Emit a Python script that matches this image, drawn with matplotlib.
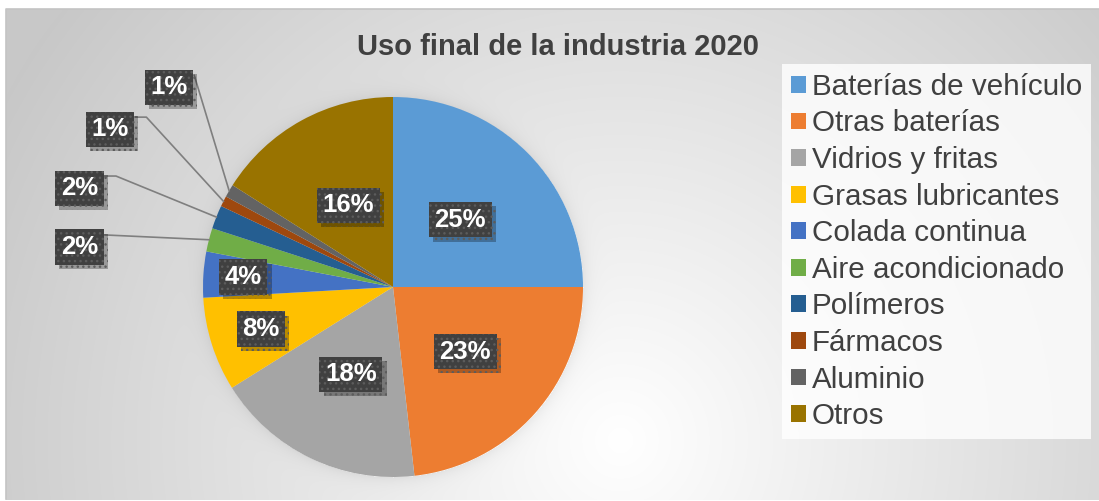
import matplotlib
matplotlib.use("Agg")
import matplotlib.pyplot as plt
import matplotlib.patches as mpatches
import matplotlib.patheffects as pe
import numpy as np

plt.rcParams['font.family'] = ['Liberation Sans', 'DejaVu Sans']
plt.rcParams['hatch.color'] = '#5c5c5c'
plt.rcParams['hatch.linewidth'] = 1.0

# data
categories = ['Baterías de vehículo', 'Otras baterías', 'Vidrios y fritas',
              'Grasas lubricantes', 'Colada continua', 'Aire acondicionado',
              'Polímeros', 'Fármacos', 'Aluminio', 'Otros']
values = [25.0, 23.2, 17.9, 8.0, 3.9, 2.0, 2.0, 0.9, 1.1, 16.0]
colors = ['#5B9BD5', '#ED7D31', '#A5A5A5', '#FFC000', '#4472C4',
          '#70AD47', '#255E91', '#9E480E', '#636363', '#997300']
title = 'Uso final de la industria 2020'

# label layout: inside distance, or moved outside box centre (pie radius units)
inside_dist = [0.5, 0.51, 0.51, 0.73, 0.79, None, None, None, None, 0.49]
outside_pos = {5: (-1.65, 0.21), 6: (-1.65, 0.52), 7: (-1.49, 0.83), 8: (-1.18, 1.05)}
elbow = {5: 0.0, 6: 0.058, 7: 0.058, 8: 0.0}

W, H = 1099, 501
fig = plt.figure(figsize=(W / 100, H / 100), dpi=100)

# background: radial grey gradient inside a framed area + soft pie shadow
yy, xx = np.mgrid[0:H, 0:W]
d = np.hypot(xx - 620, yy - 440) / 700.0
bg = 255 - 55 * np.clip(d, 0, 1)
cx, cy, R = 393, 287, 190
rr = np.hypot(xx - cx, yy - cy)
shadow = np.where(rr > R, 14 * np.exp(-(rr - R) / 7.0), 0)
bg = bg - shadow
frame = (xx >= 6) & (yy >= 9) & (yy <= 499)
bg = np.where(frame, bg, 255)
img = np.dstack([bg, bg, bg]) / 255.0
bax = fig.add_axes([0, 0, 1, 1])
bax.imshow(img, aspect='auto', extent=(0, W, H, 0), interpolation='bilinear')
bax.plot([6, 6, W], [499, 9, 9], color='#c4c4c4', lw=1.2)
bax.set_xlim(0, W)
bax.set_ylim(H, 0)
bax.axis('off')

# pie axes
ax = fig.add_axes([(cx - R) / W, (H - cy - R) / H, 2 * R / W, 2 * R / H])
wedges, _ = ax.pie(values, colors=colors, startangle=90, counterclock=False,
                   radius=1, wedgeprops=dict(linewidth=0))
ax.set_xlim(-1, 1)
ax.set_ylim(-1, 1)
ax.set_aspect('auto')
ax.axis('off')

box = dict(boxstyle='square,pad=0.22', facecolor='#404040',
           edgecolor='#5c5c5c', hatch='...', linewidth=0)

for i, w in enumerate(wedges):
    ang = np.deg2rad((w.theta1 + w.theta2) / 2)
    txt = f'{round(values[i]):.0f}%'
    if inside_dist[i] is not None:
        x, y = inside_dist[i] * np.cos(ang), inside_dist[i] * np.sin(ang)
    else:
        x, y = outside_pos[i]
        ex, ey = np.cos(ang), np.sin(ang)
        sx, sy = x + 0.134, y + 0.064
        xs = [sx, sx + elbow[i], ex]
        ys = [sy, sy, ey]
        ax.plot(xs, ys, color='#7f7f7f', lw=1.2, clip_on=False, zorder=3)
    t = ax.text(x, y, txt, ha='center', va='center', fontsize=18.5, fontweight='bold',
                color='white', bbox=box, zorder=5)
    t.get_bbox_patch().set_path_effects(
        [pe.SimplePatchShadow(offset=(3, -3), shadow_rgbFace='black', alpha=0.28), pe.Normal()])

fig.text(558 / W, 1 - 47 / H, title, ha='center', va='center', fontsize=21,
         fontweight='bold', color='#404040')

handles = [mpatches.Patch(facecolor=c, edgecolor='none') for c in colors]
leg = fig.legend(handles, categories, loc='upper left',
                 bbox_to_anchor=(782 / W, 1 - 64 / H), fontsize=21.3,
                 handlelength=0.5, handleheight=0.5, handletextpad=0.2,
                 labelspacing=0.29, borderpad=0.3, borderaxespad=0,
                 frameon=True, fancybox=False)
leg.get_frame().set_facecolor((1, 1, 1, 0.28))
leg.get_frame().set_edgecolor('none')
for t in leg.get_texts():
    t.set_color('#404040')

fig.savefig('out.png', dpi=100)
